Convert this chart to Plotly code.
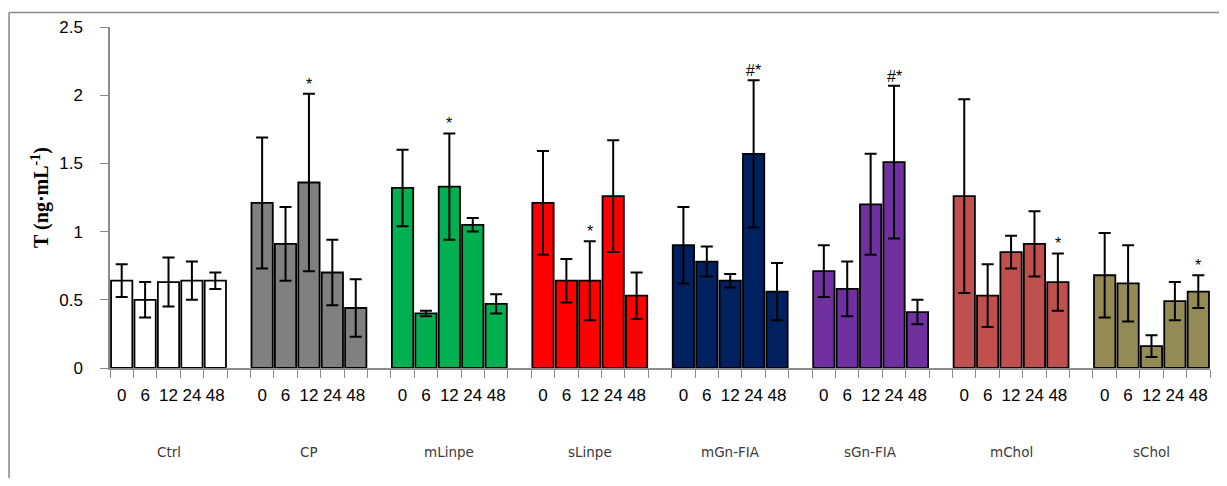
import plotly.graph_objects as go

groups = ["Ctrl", "CP", "mLinpe", "sLinpe", "mGn-FIA", "sGn-FIA", "mChol", "sChol"]
times = ["0", "6", "12", "24", "48"]
colors = ["#FFFFFF", "#808080", "#00B050", "#FF0000", "#002060", "#7030A0", "#C0504D", "#948A54"]

values = [
    [0.64, 0.50, 0.63, 0.64, 0.64],   # Ctrl
    [1.21, 0.91, 1.36, 0.70, 0.44],   # CP
    [1.32, 0.40, 1.33, 1.05, 0.47],   # mLinpe
    [1.21, 0.64, 0.64, 1.26, 0.53],   # sLinpe
    [0.90, 0.78, 0.64, 1.57, 0.56],   # mGn-FIA
    [0.71, 0.58, 1.20, 1.51, 0.41],   # sGn-FIA
    [1.26, 0.53, 0.85, 0.91, 0.63],   # mChol
    [0.68, 0.62, 0.16, 0.49, 0.56],   # sChol
]
errors = [
    [0.12, 0.13, 0.18, 0.14, 0.06],
    [0.48, 0.27, 0.65, 0.24, 0.21],
    [0.28, 0.02, 0.39, 0.05, 0.07],
    [0.38, 0.16, 0.29, 0.41, 0.17],
    [0.28, 0.11, 0.05, 0.54, 0.21],
    [0.19, 0.20, 0.37, 0.56, 0.09],
    [0.71, 0.23, 0.12, 0.24, 0.21],
    [0.31, 0.28, 0.08, 0.14, 0.12],
]
signif = [
    ["", "", "", "", ""],
    ["", "", "*", "", ""],
    ["", "", "*", "", ""],
    ["", "", "*", "", ""],
    ["", "", "", "#*", ""],
    ["", "", "", "#*", ""],
    ["", "", "", "", "*"],
    ["", "", "", "", "*"],
]

SLOTS = len(times) + 1
n_slots = len(groups) * SLOTS - 1

fig = go.Figure()
tickvals, ticktext = [], []
annotations = []
for g, name in enumerate(groups):
    xs = [g * SLOTS + j for j in range(len(times))]
    tickvals += xs
    ticktext += times
    fig.add_trace(go.Bar(
        x=xs, y=values[g], name=name,
        marker=dict(color=colors[g], line=dict(color="#000000", width=1.8)),
        error_y=dict(type="data", array=errors[g], visible=True,
                     color="#000000", thickness=2, width=6),
        showlegend=False,
    ))
    for j, s in enumerate(signif[g]):
        if s:
            annotations.append(dict(
                x=xs[j], y=values[g][j] + errors[g][j], xref="x", yref="y",
                text=s, showarrow=False, yanchor="bottom", yshift=-1,
                font=dict(family="Liberation Sans, Arial", size=16, color="#000000"),
            ))
    annotations.append(dict(
        x=xs[0] + (len(times) - 1) / 2, y=-0.246, xref="x", yref="paper",
        text=name, showarrow=False, yanchor="middle",
        font=dict(family="DejaVu Sans, Verdana", size=13.5, color="#3A3A3A"),
    ))

boundaries = [i - 0.5 for i in range(n_slots + 1)]

# figure sits at page offset (8, 8) because of the default body margin
FW, FH = 1211, 470
L, T = 102, 18.5
W, H = 1100.5, 341.5

def px(xp):
    return (xp - 8 - L) / W

def py(yp):
    return (T + H - (yp - 8)) / H

shapes = [
    dict(type="line", xref="paper", yref="paper", x0=px(9), x1=px(1240), y0=py(12), y1=py(12),
         line=dict(color="#8C8C8C", width=1.6)),
    dict(type="line", xref="paper", yref="paper", x0=px(9), x1=px(9), y0=py(12), y1=py(495),
         line=dict(color="#8C8C8C", width=1.6)),
]

fig.update_layout(
    width=FW, height=FH,
    margin=dict(l=L, r=FW - L - W, t=T, b=FH - T - H),
    paper_bgcolor="#FFFFFF", plot_bgcolor="#FFFFFF",
    bargap=0.09,
    annotations=annotations,
    shapes=shapes,
    font=dict(family="Liberation Sans, Arial", color="#000000"),
    xaxis=dict(
        range=[-0.5, n_slots - 0.5],
        tickmode="array", tickvals=tickvals, ticktext=ticktext,
        ticks="outside", ticklen=8, tickcolor="rgba(0,0,0,0)",
        tickfont=dict(family="Liberation Sans, Arial", size=17, color="#000000"),
        ticklabelstandoff=3,
        showline=True, linecolor="#8C8C8C", linewidth=1.5,
        showgrid=False, zeroline=False,
        minor=dict(tickmode="array", tickvals=boundaries, ticks="outside",
                   ticklen=8, tickwidth=1.3, tickcolor="#8C8C8C", showgrid=False),
    ),
    yaxis=dict(
        range=[0, 2.5], tickmode="array",
        tickvals=[0, 0.5, 1, 1.5, 2, 2.5], ticktext=["0", "0.5", "1", "1.5", "2", "2.5"],
        ticks="outside", ticklen=8, tickwidth=1.3, tickcolor="#8C8C8C",
        tickfont=dict(family="Liberation Sans, Arial", size=17, color="#000000"),
        ticklabelstandoff=14,
        showline=True, linecolor="#8C8C8C", linewidth=1.5,
        showgrid=False, zeroline=False,
        title=dict(text="T (ng·mL<sup>-1</sup>)", standoff=5,
                   font=dict(family="Liberation Serif, Times New Roman", size=20, color="#000000",
                             weight="bold")),
    ),
)

fig.write_html("out.html")
